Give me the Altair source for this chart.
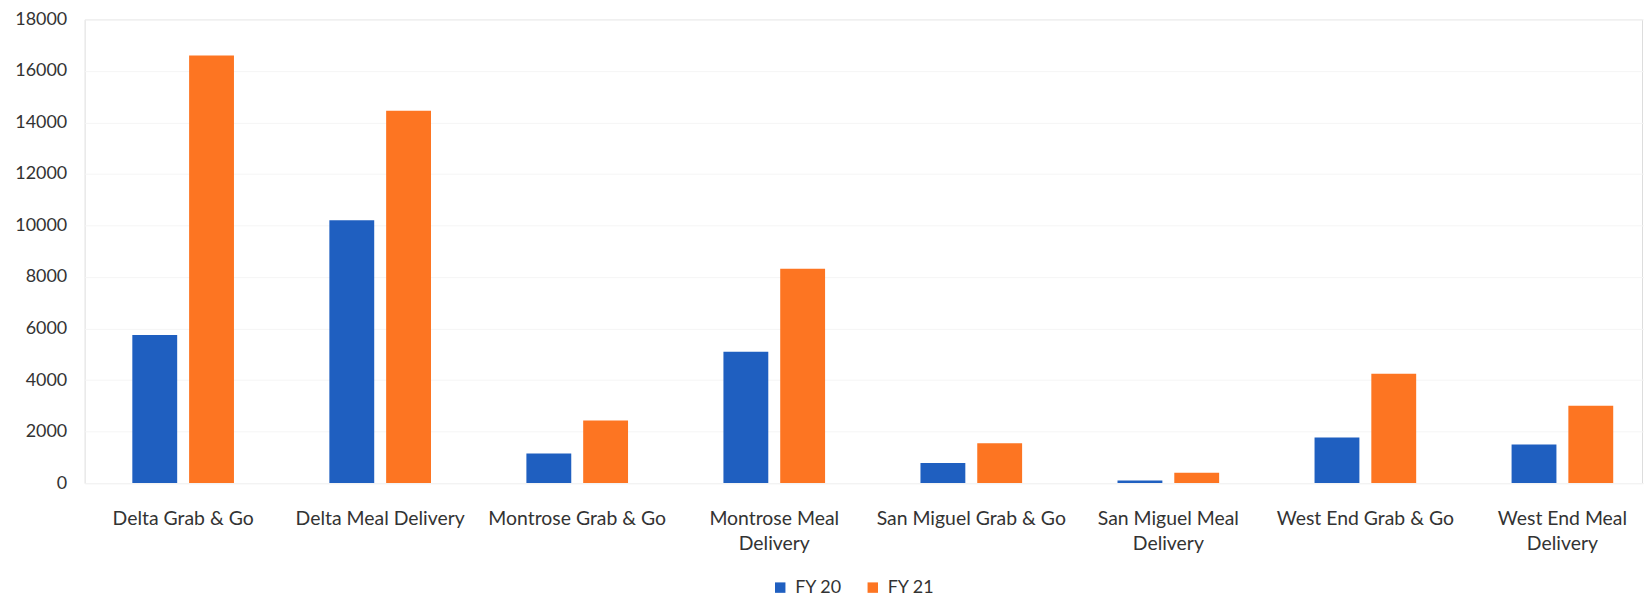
import altair as alt
import pandas as pd

categories = [
    "Delta Grab & Go",
    "Delta Meal Delivery",
    "Montrose Grab & Go",
    "Montrose Meal Delivery",
    "San Miguel Grab & Go",
    "San Miguel Meal Delivery",
    "West End Grab & Go",
    "West End Meal Delivery",
]
series_names = ["FY 20", "FY 21"]
fy20 = [5750, 10200, 1150, 5100, 780, 100, 1770, 1500]
fy21 = [16600, 14450, 2430, 8320, 1550, 400, 4250, 3000]
y_ticks = [0, 2000, 4000, 6000, 8000, 10000, 12000, 14000, 16000, 18000]
wrapped = {
    "Montrose Meal Delivery": ["Montrose Meal", "Delivery"],
    "San Miguel Meal Delivery": ["San Miguel Meal", "Delivery"],
    "West End Meal Delivery": ["West End Meal", "Delivery"],
}
colors = ["#1f5fc0", "#fd7522"]

rows = []
for c, a, b in zip(categories, fy20, fy21):
    rows.append({"category": c, "series": series_names[0], "value": a})
    rows.append({"category": c, "series": series_names[1], "value": b})
df = pd.DataFrame(rows)

label_expr = ""
for k, v in wrapped.items():
    parts = ", ".join("'" + s + "'" for s in v)
    label_expr += f"datum.value == '{k}' ? [{parts}] : "
label_expr += "datum.value"

FONT = "Lato"
TXT = "#333333"

chart = (
    alt.Chart(df)
    .mark_bar()
    .encode(
        x=alt.X(
            "category:N",
            sort=categories,
            scale=alt.Scale(paddingInner=0, paddingOuter=0, range=[0, 1584]),
            axis=alt.Axis(
                title=None,
                labelAngle=0,
                labelFontSize=19.5,
                labelFont=FONT,
                labelColor=TXT,
                labelPadding=27,
                labelLineHeight=25,
                labelLimit=400,
                ticks=False,
                domain=False,
                labelExpr=label_expr,
            ),
        ),
        xOffset=alt.XOffset(
            "series:N",
            sort=series_names,
            scale=alt.Scale(paddingInner=0.21, paddingOuter=0.84),
        ),
        y=alt.Y(
            "value:Q",
            scale=alt.Scale(domain=[0, 18000], nice=False),
            axis=alt.Axis(
                title=None,
                values=y_ticks,
                format="d",
                labelFontSize=18,
                labelFont=FONT,
                labelColor=TXT,
                labelPadding=18,
                ticks=False,
                domain=False,
                grid=True,
                gridColor="#f5f5f5",
            ),
        ),
        color=alt.Color(
            "series:N",
            sort=series_names,
            scale=alt.Scale(domain=series_names, range=colors),
            legend=alt.Legend(
                title=None,
                orient="none",
                direction="horizontal",
                legendX=690,
                legendY=562,
                symbolType="square",
                symbolSize=110,
                symbolStrokeWidth=0,
                labelFontSize=18,
                labelFont=FONT,
                labelColor=TXT,
                columnPadding=22,
                labelOffset=6,
            ),
        ),
    )
    .properties(
        width=1565,
        height=466,
        autosize=alt.AutoSizeParams(type="none"),
        padding={"left": 77, "top": 10, "right": 2, "bottom": 115},
    )
    .configure_view(stroke=None)
    .configure(background="white")
)

chart.save("out.html", embed_options={"renderer": "svg", "actions": False})
